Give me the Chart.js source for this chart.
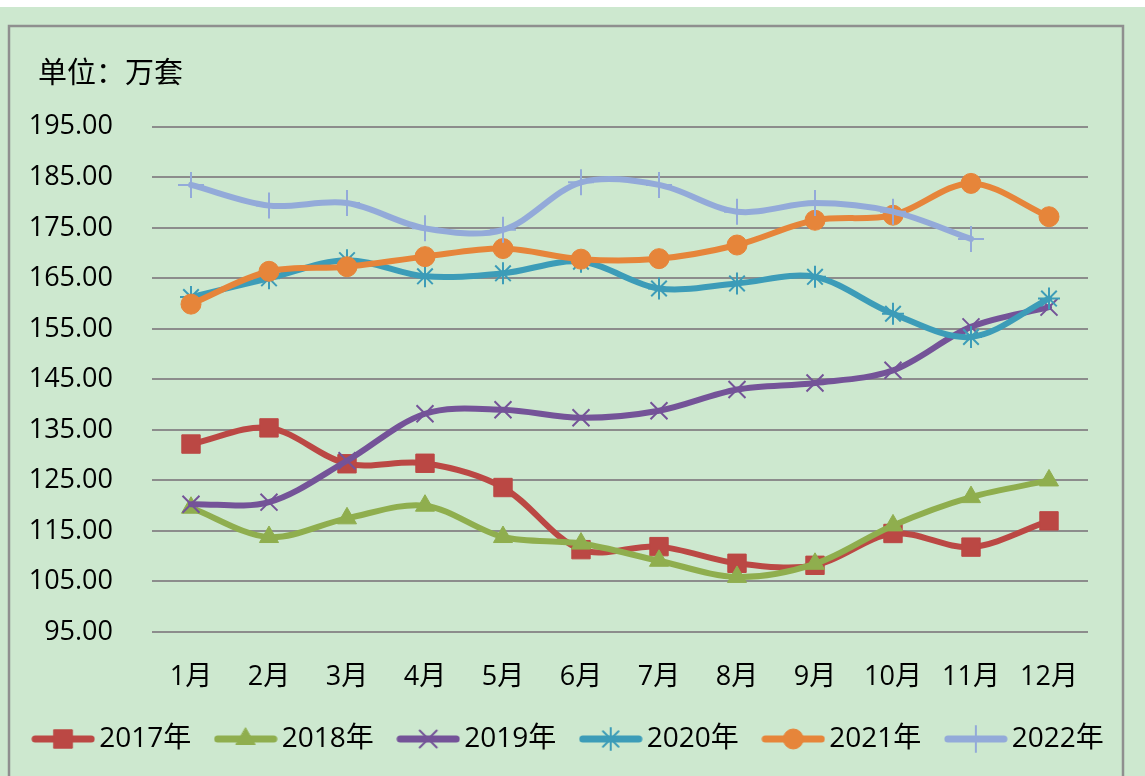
<!DOCTYPE html>
<html lang="zh">
<head>
    <meta charset="UTF-8">
    <script src="https://cdn.jsdelivr.net/npm/chart.js@4.4.0/dist/chart.umd.min.js"></script>
    <title>单位：万套</title>
    <style>
        html, body { margin: 0; padding: 0; background: #fff; }
    </style>
</head>

<body>
    <canvas id="myChart" width="1145" height="776"></canvas>

    <script>
        // dati
        var mesi = ['1月', '2月', '3月', '4月', '5月', '6月', '7月', '8月', '9月', '10月', '11月', '12月'];
        var anni = ['2017年', '2018年', '2019年', '2020年', '2021年', '2022年'];
        var v2017 = [132.2, 135.4, 128.3, 128.4, 123.6, 111.3, 111.9, 108.6, 108.2, 114.5, 111.8, 117.0];
        var v2018 = [119.6, 113.8, 117.5, 120.0, 113.8, 112.5, 109.1, 105.9, 108.5, 116.1, 121.7, 125.0];
        var v2019 = [120.3, 120.7, 128.9, 138.2, 139.0, 137.4, 138.8, 143.0, 144.3, 146.8, 155.4, 159.3];
        var v2020 = [161.3, 165.0, 168.6, 165.4, 166.0, 168.3, 163.0, 164.0, 165.3, 158.0, 153.4, 161.0];
        var v2021 = [159.9, 166.4, 167.3, 169.3, 170.9, 168.8, 168.9, 171.6, 176.5, 177.5, 183.8, 177.2];
        var v2022 = [183.5, 179.4, 179.9, 174.9, 174.6, 184.0, 183.5, 178.2, 179.9, 178.2, 172.8, null];
        var tickY = [95, 105, 115, 125, 135, 145, 155, 165, 175, 185, 195];

        var serie = [v2017, v2018, v2019, v2020, v2021, v2022];
        var colori = ['#bb4844', '#8fae4e', '#745398', '#3c9cb8', '#e6853a', '#93aad9'];
        var marker = ['rect', 'triangle', 'crossRot', 'star', 'circle', 'cross'];
        var raggi = [13, 11, 12, 11, 10, 13];
        var pieni = [true, true, false, false, true, false];

        var fontNum = "'Open Sans', 'Noto Sans CJK SC', sans-serif";

        // sfondo verde, cornice e posizione del titolo
        var sfondo = {
            id: 'sfondo',
            afterLayout: function (chart) {
                if (chart.titleBlock) chart.titleBlock.left = 38;
            },
            beforeDraw: function (chart) {
                var ctx = chart.ctx;
                ctx.save();
                ctx.fillStyle = '#cde8cf';
                ctx.fillRect(0, 7, chart.width, chart.height - 7);
                ctx.strokeStyle = '#8f8f8f';
                ctx.lineWidth = 2.5;
                ctx.strokeRect(9, 26, 1114, 800);
                ctx.restore();
            }
        };

        // icona della legenda: linea + marker
        function icona(i) {
            var c = document.createElement('canvas');
            c.width = 64;
            c.height = 30;
            var g = c.getContext('2d');
            g.strokeStyle = colori[i];
            g.fillStyle = colori[i];
            g.lineWidth = 7;
            g.lineCap = 'round';
            g.beginPath();
            g.moveTo(4, 15);
            g.lineTo(60, 15);
            g.stroke();
            g.lineWidth = pieni[i] ? 1 : 2;
            Chart.helpers.drawPoint(g, {
                pointStyle: marker[i],
                radius: raggi[i],
                rotation: 0,
                borderWidth: g.lineWidth
            }, 32, 15);
            return c;
        }
        var icone = serie.map(function (s, i) { return icona(i); });

        var datasets = serie.map(function (s, i) {
            return {
                label: anni[i],
                data: s,
                fill: false,
                borderColor: colori[i],
                backgroundColor: colori[i],
                borderWidth: 6,
                borderCapStyle: 'round',
                borderJoinStyle: 'round',
                tension: 0.33,
                pointStyle: marker[i],
                pointRadius: raggi[i],
                pointHoverRadius: raggi[i],
                pointBorderWidth: pieni[i] ? 1 : 2,
                pointBackgroundColor: colori[i],
                pointBorderColor: colori[i],
                order: serie.length - 1 - i
            };
        });

        var ctx = document.getElementById('myChart').getContext('2d');
        var chart = new Chart(ctx, {
            type: 'line',
            data: {
                labels: mesi,
                datasets: datasets
            },
            plugins: [sfondo],
            options: {
                responsive: false,
                animation: false,
                layout: { padding: { left: 0, right: 0, top: 55, bottom: 13 } },
                plugins: {
                    title: {
                        display: true,
                        text: '单位：万套',
                        align: 'start',
                        color: '#000',
                        font: { family: "'Noto Sans CJK SC', sans-serif", size: 29, weight: 'normal' },
                        padding: { top: 0, bottom: 37 }
                    },
                    legend: {
                        position: 'bottom',
                        labels: {
                            usePointStyle: true,
                            pointStyleWidth: 44,
                            padding: 32.5,
                            color: '#000',
                            font: { family: fontNum, size: 28 },
                            sort: function (a, b) { return a.datasetIndex - b.datasetIndex; },
                            generateLabels: function (chart) {
                                var items = Chart.defaults.plugins.legend.labels.generateLabels(chart);
                                items.forEach(function (it) {
                                    it.pointStyle = icone[it.datasetIndex];
                                    it.fontColor = '#000';
                                });
                                return items;
                            }
                        }
                    },
                    tooltip: { enabled: false }
                },
                scales: {
                    x: {
                        offset: true,
                        grid: { display: false },
                        border: { display: false },
                        ticks: {
                            color: '#000',
                            font: { family: fontNum, size: 27 },
                            padding: 21,
                            maxRotation: 0,
                            autoSkip: false
                        },
                        afterFit: function (s) { s.height = 60.5; }
                    },
                    y: {
                        min: tickY[0],
                        max: tickY[tickY.length - 1],
                        afterBuildTicks: function (s) {
                            s.ticks = tickY.map(function (v) { return { value: v }; });
                        },
                        ticks: {
                            color: '#000',
                            font: { family: fontNum, size: 27 },
                            padding: 39,
                            callback: function (v) { return Number(v).toFixed(2); }
                        },
                        grid: { color: '#8c8c8c', lineWidth: 2, drawTicks: false },
                        border: { display: false },
                        afterFit: function (s) { s.width = 152; }
                    },
                    // asse vuoto a destra, solo per lo spazio
                    y2: {
                        position: 'right',
                        ticks: { display: false },
                        grid: { display: false },
                        border: { display: false },
                        afterFit: function (s) { s.width = 57; }
                    }
                }
            }
        });
    </script>
</body>

</html>
